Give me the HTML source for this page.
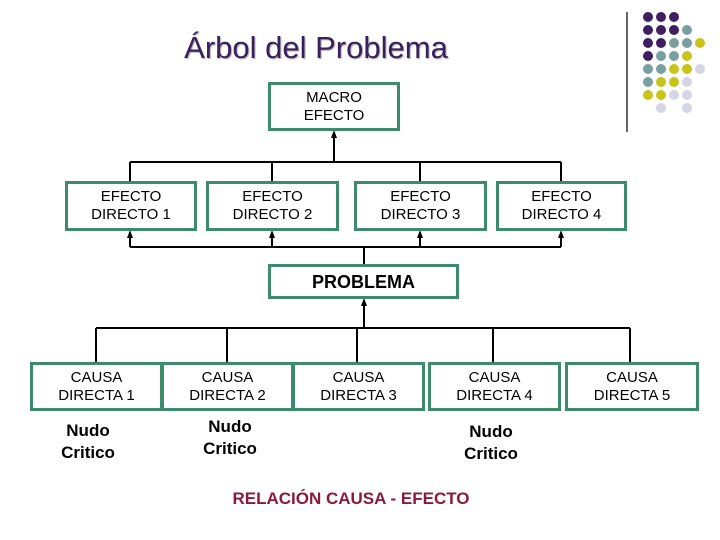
<!DOCTYPE html>
<html><head><meta charset="utf-8"><style>
body{margin:0;width:720px;height:540px;background:#fff;overflow:hidden;position:relative;font-family:"Liberation Sans",sans-serif}
.b{position:absolute;border:3px solid #3d8a6c;box-sizing:border-box;display:flex;align-items:center;justify-content:center;text-align:center;font-size:15px;line-height:18px;color:#000;background:#fff}
.t{position:absolute;text-align:center;font-weight:bold;font-size:17px;line-height:22px;transform:translateX(-50%)}
</style></head><body>
<div style="position:absolute;left:0;width:632px;top:30px;text-align:center;font-size:31px;color:#3a1f5c;text-shadow:1px 1px 1px #aaa">Árbol del Problema</div>
<svg width="720" height="540" style="position:absolute;left:0;top:0">
<line x1="627" y1="12" x2="627" y2="132" stroke="#333" stroke-width="1.5"/>
<g>
<circle cx="648" cy="17" r="5" fill="#3f1f5f"/><circle cx="661" cy="17" r="5" fill="#3f1f5f"/><circle cx="674" cy="17" r="5" fill="#3f1f5f"/>
<circle cx="648" cy="30" r="5" fill="#3f1f5f"/><circle cx="661" cy="30" r="5" fill="#3f1f5f"/><circle cx="674" cy="30" r="5" fill="#3f1f5f"/><circle cx="687" cy="30" r="5" fill="#7a9fa0"/>
<circle cx="648" cy="43" r="5" fill="#3f1f5f"/><circle cx="661" cy="43" r="5" fill="#3f1f5f"/><circle cx="674" cy="43" r="5" fill="#7a9fa0"/><circle cx="687" cy="43" r="5" fill="#7a9fa0"/><circle cx="700" cy="43" r="5" fill="#c8c41a"/>
<circle cx="648" cy="56" r="5" fill="#3f1f5f"/><circle cx="661" cy="56" r="5" fill="#7a9fa0"/><circle cx="674" cy="56" r="5" fill="#7a9fa0"/><circle cx="687" cy="56" r="5" fill="#c8c41a"/>
<circle cx="648" cy="69" r="5" fill="#7a9fa0"/><circle cx="661" cy="69" r="5" fill="#7a9fa0"/><circle cx="674" cy="69" r="5" fill="#c8c41a"/><circle cx="687" cy="69" r="5" fill="#c8c41a"/><circle cx="700" cy="69" r="5" fill="#d5d5e8"/>
<circle cx="648" cy="82" r="5" fill="#7a9fa0"/><circle cx="661" cy="82" r="5" fill="#c8c41a"/><circle cx="674" cy="82" r="5" fill="#c8c41a"/><circle cx="687" cy="82" r="5" fill="#d5d5e8"/>
<circle cx="648" cy="95" r="5" fill="#c8c41a"/><circle cx="661" cy="95" r="5" fill="#c8c41a"/><circle cx="674" cy="95" r="5" fill="#d5d5e8"/><circle cx="687" cy="95" r="5" fill="#d5d5e8"/>
<circle cx="661" cy="108" r="5" fill="#d5d5e8"/><circle cx="687" cy="108" r="5" fill="#d5d5e8"/>
</g>
<g stroke="#000" stroke-width="2" fill="none">
<line x1="334" y1="134" x2="334" y2="162"/>
<line x1="130" y1="162" x2="561" y2="162"/>
<line x1="130" y1="162" x2="130" y2="182"/><line x1="272" y1="162" x2="272" y2="182"/><line x1="420" y1="162" x2="420" y2="182"/><line x1="561" y1="162" x2="561" y2="182"/>
<line x1="130" y1="247" x2="561" y2="247"/>
<line x1="130" y1="234" x2="130" y2="247"/><line x1="272" y1="234" x2="272" y2="247"/><line x1="420" y1="234" x2="420" y2="247"/><line x1="561" y1="234" x2="561" y2="247"/>
<line x1="364" y1="247" x2="364" y2="264"/>
<line x1="364" y1="302" x2="364" y2="328"/>
<line x1="96" y1="328" x2="630" y2="328"/>
<line x1="96" y1="328" x2="96" y2="362"/><line x1="227" y1="328" x2="227" y2="362"/><line x1="357" y1="328" x2="357" y2="362"/><line x1="493" y1="328" x2="493" y2="362"/><line x1="630" y1="328" x2="630" y2="362"/>
</g>
<g fill="#000">
<polygon points="334,130 331,138 337,138"/>
<polygon points="130,230 127,238 133,238"/><polygon points="272,230 269,238 275,238"/><polygon points="420,230 417,238 423,238"/><polygon points="561,230 558,238 564,238"/>
<polygon points="364,298 361,306 367,306"/>
</g>
</svg>
<div class="b" style="left:268px;top:82px;width:132px;height:49px">MACRO<br>EFECTO</div>
<div class="b" style="left:65px;top:181px;width:132px;height:50px">EFECTO<br>DIRECTO 1</div>
<div class="b" style="left:206px;top:181px;width:133px;height:50px">EFECTO<br>DIRECTO 2</div>
<div class="b" style="left:354px;top:181px;width:133px;height:50px">EFECTO<br>DIRECTO 3</div>
<div class="b" style="left:496px;top:181px;width:131px;height:50px">EFECTO<br>DIRECTO 4</div>
<div class="b" style="left:268px;top:264px;width:191px;height:35px;font-weight:bold;font-size:18px">PROBLEMA</div>
<div class="b" style="left:30px;top:362px;width:133px;height:49px">CAUSA<br>DIRECTA 1</div>
<div class="b" style="left:161px;top:362px;width:133px;height:49px">CAUSA<br>DIRECTA 2</div>
<div class="b" style="left:292px;top:362px;width:133px;height:49px">CAUSA<br>DIRECTA 3</div>
<div class="b" style="left:428px;top:362px;width:133px;height:49px">CAUSA<br>DIRECTA 4</div>
<div class="b" style="left:565px;top:362px;width:134px;height:49px">CAUSA<br>DIRECTA 5</div>
<div class="t" style="left:88px;top:420px">Nudo<br>Critico</div>
<div class="t" style="left:230px;top:416px">Nudo<br>Critico</div>
<div class="t" style="left:491px;top:421px">Nudo<br>Critico</div>
<div class="t" style="left:351px;top:488px;color:#8b1a3a;white-space:nowrap">RELACIÓN CAUSA - EFECTO</div>
</body></html>
